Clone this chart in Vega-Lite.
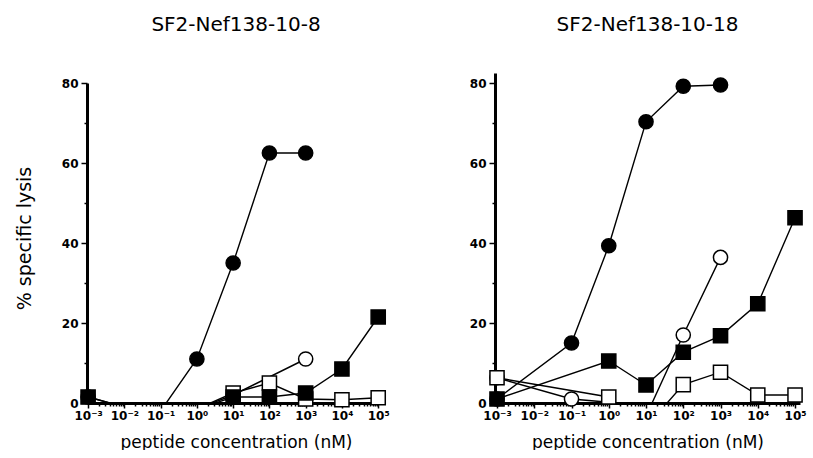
{
  "$schema": "https://vega.github.io/schema/vega-lite/v6.json",
  "background": "white",
  "padding": {"left": 15, "top": 15, "right": 5, "bottom": 0},
  "spacing": 110,
  "bounds": "flush",
  "resolve": {"scale": {"x": "independent", "y": "independent"}},
  "config": {
    "view": {"stroke": null},
    "font": "DejaVu Sans",
    "title": {"font": "DejaVu Sans", "fontSize": 20, "fontWeight": "normal", "color": "black", "anchor": "middle", "offset": 38},
    "axis": {"domainColor": "black", "tickColor": "black", "labelColor": "black", "titleColor": "black", "grid": false, "labelFont": "DejaVu Sans", "titleFont": "DejaVu Sans", "titleFontWeight": "normal"}
  },
  "datasets": {
    "lysis": [
      {"panel": "SF2-Nef138-10-8", "series": "open circle", "conc": 1, "lysis": -1.5},
      {"panel": "SF2-Nef138-10-8", "series": "open circle", "conc": 10, "lysis": 2},
      {"panel": "SF2-Nef138-10-8", "series": "open circle", "conc": 1000, "lysis": 11},
      {"panel": "SF2-Nef138-10-8", "series": "open square", "conc": 1, "lysis": -1.5},
      {"panel": "SF2-Nef138-10-8", "series": "open square", "conc": 10, "lysis": 2.5},
      {"panel": "SF2-Nef138-10-8", "series": "open square", "conc": 100, "lysis": 5},
      {"panel": "SF2-Nef138-10-8", "series": "open square", "conc": 1000, "lysis": 1},
      {"panel": "SF2-Nef138-10-8", "series": "open square", "conc": 10000, "lysis": 0.8},
      {"panel": "SF2-Nef138-10-8", "series": "open square", "conc": 100000, "lysis": 1.3},
      {"panel": "SF2-Nef138-10-8", "series": "closed circle", "conc": 0.001, "lysis": 1.5},
      {"panel": "SF2-Nef138-10-8", "series": "closed circle", "conc": 0.01, "lysis": -1},
      {"panel": "SF2-Nef138-10-8", "series": "closed circle", "conc": 0.1, "lysis": -2},
      {"panel": "SF2-Nef138-10-8", "series": "closed circle", "conc": 1, "lysis": 11},
      {"panel": "SF2-Nef138-10-8", "series": "closed circle", "conc": 10, "lysis": 35},
      {"panel": "SF2-Nef138-10-8", "series": "closed circle", "conc": 100, "lysis": 62.5},
      {"panel": "SF2-Nef138-10-8", "series": "closed circle", "conc": 1000, "lysis": 62.5},
      {"panel": "SF2-Nef138-10-8", "series": "closed square", "conc": 0.001, "lysis": 1.5},
      {"panel": "SF2-Nef138-10-8", "series": "closed square", "conc": 0.01, "lysis": -1},
      {"panel": "SF2-Nef138-10-8", "series": "closed square", "conc": 0.1, "lysis": -1},
      {"panel": "SF2-Nef138-10-8", "series": "closed square", "conc": 1, "lysis": -1.6},
      {"panel": "SF2-Nef138-10-8", "series": "closed square", "conc": 10, "lysis": 1.5},
      {"panel": "SF2-Nef138-10-8", "series": "closed square", "conc": 100, "lysis": 1.5},
      {"panel": "SF2-Nef138-10-8", "series": "closed square", "conc": 1000, "lysis": 2.5},
      {"panel": "SF2-Nef138-10-8", "series": "closed square", "conc": 10000, "lysis": 8.5},
      {"panel": "SF2-Nef138-10-8", "series": "closed square", "conc": 100000, "lysis": 21.5},
      {"panel": "SF2-Nef138-10-18", "series": "open circle", "conc": 0.001, "lysis": 6.3},
      {"panel": "SF2-Nef138-10-18", "series": "open circle", "conc": 0.1, "lysis": 1},
      {"panel": "SF2-Nef138-10-18", "series": "open circle", "conc": 1, "lysis": 0.2},
      {"panel": "SF2-Nef138-10-18", "series": "open circle", "conc": 10, "lysis": -3.3},
      {"panel": "SF2-Nef138-10-18", "series": "open circle", "conc": 100, "lysis": 17},
      {"panel": "SF2-Nef138-10-18", "series": "open circle", "conc": 1000, "lysis": 36.4},
      {"panel": "SF2-Nef138-10-18", "series": "open square", "conc": 0.001, "lysis": 6.3},
      {"panel": "SF2-Nef138-10-18", "series": "open square", "conc": 1, "lysis": 1.5},
      {"panel": "SF2-Nef138-10-18", "series": "open square", "conc": 10, "lysis": -6},
      {"panel": "SF2-Nef138-10-18", "series": "open square", "conc": 100, "lysis": 4.6},
      {"panel": "SF2-Nef138-10-18", "series": "open square", "conc": 1000, "lysis": 7.7},
      {"panel": "SF2-Nef138-10-18", "series": "open square", "conc": 10000, "lysis": 2},
      {"panel": "SF2-Nef138-10-18", "series": "open square", "conc": 100000, "lysis": 2},
      {"panel": "SF2-Nef138-10-18", "series": "closed circle", "conc": 0.001, "lysis": 1},
      {"panel": "SF2-Nef138-10-18", "series": "closed circle", "conc": 0.1, "lysis": 15},
      {"panel": "SF2-Nef138-10-18", "series": "closed circle", "conc": 1, "lysis": 39.3},
      {"panel": "SF2-Nef138-10-18", "series": "closed circle", "conc": 10, "lysis": 70.3},
      {"panel": "SF2-Nef138-10-18", "series": "closed circle", "conc": 100, "lysis": 79.2},
      {"panel": "SF2-Nef138-10-18", "series": "closed circle", "conc": 1000, "lysis": 79.5},
      {"panel": "SF2-Nef138-10-18", "series": "closed square", "conc": 0.001, "lysis": 1},
      {"panel": "SF2-Nef138-10-18", "series": "closed square", "conc": 1, "lysis": 10.5},
      {"panel": "SF2-Nef138-10-18", "series": "closed square", "conc": 10, "lysis": 4.5},
      {"panel": "SF2-Nef138-10-18", "series": "closed square", "conc": 100, "lysis": 12.7},
      {"panel": "SF2-Nef138-10-18", "series": "closed square", "conc": 1000, "lysis": 16.8},
      {"panel": "SF2-Nef138-10-18", "series": "closed square", "conc": 10000, "lysis": 24.8},
      {"panel": "SF2-Nef138-10-18", "series": "closed square", "conc": 100000, "lysis": 46.3}
    ]
  },
  "hconcat": [
    {
      "title": "SF2-Nef138-10-8",
      "width": 298,
      "height": 330,
      "data": {"name": "lysis"},
      "transform": [{"filter": "datum.panel === 'SF2-Nef138-10-8'"}],
      "encoding": {
        "x": {
          "field": "conc", "type": "quantitative",
          "scale": {"type": "log", "domain": [0.000933, 154000]},
          "axis": {
            "title": "peptide concentration (nM)", "titleFontSize": 17, "titlePadding": 13,
            "values": [0.001,0.002,0.003,0.004,0.005,0.006,0.007,0.008,0.009,0.01,0.02,0.03,0.04,0.05,0.06,0.07,0.08,0.09,0.1,0.2,0.3,0.4,0.5,0.6,0.7,0.8,0.9,1,2,3,4,5,6,7,8,9,10,20,30,40,50,60,70,80,90,100,200,300,400,500,600,700,800,900,1000,2000,3000,4000,5000,6000,7000,8000,9000,10000,20000,30000,40000,50000,60000,70000,80000,90000,100000],
            "labelExpr": "abs(log(datum.value)/LN10 - round(log(datum.value)/LN10)) < 0.001 ? '10' + ['⁻³','⁻²','⁻¹','⁰','¹','²','³','⁴','⁵'][round(log(datum.value)/LN10) + 3] : ''",
            "labelOverlap": false, "labelFlush": false,
            "labelFontSize": 12, "labelFontWeight": "bold", "labelPadding": 2,
            "tickSize": {"condition": {"test": "abs(log(datum.value)/LN10 - round(log(datum.value)/LN10)) < 0.001", "value": 5}, "value": 3},
            "tickWidth": 1.5, "domainWidth": 3
          }
        },
        "y": {
          "field": "lysis", "type": "quantitative",
          "scale": {"domain": [0, 82.5], "nice": false},
          "axis": {
            "title": "% specific lysis", "titleFontSize": 19, "titlePadding": 27,
            "values": [0,10,20,30,40,50,60,70,80],
            "labelExpr": "datum.value % 20 === 0 ? datum.label : ''",
            "labelFontSize": 12, "labelFontWeight": "bold", "labelPadding": 3,
            "tickSize": {"condition": {"test": "datum.value % 20 === 0", "value": 6}, "value": 3},
            "tickWidth": 1.5, "domainWidth": 3, "domainDash": [320, 100]
          }
        }
      },
      "layer": [
        {"mark": {"type": "line", "clip": true, "color": "black", "strokeWidth": 1.4}, "encoding": {"detail": {"field": "series"}}},
        {
          "transform": [{"filter": "datum.lysis > 0.3"}],
          "mark": {"type": "point", "filled": true, "size": 200, "stroke": "black", "strokeWidth": 1.5, "opacity": 1},
          "encoding": {
            "shape": {"field": "series", "scale": {"domain": ["open circle", "open square", "closed circle", "closed square"], "range": ["circle", "square", "circle", "square"]}, "legend": null},
            "fill": {"field": "series", "scale": {"domain": ["open circle", "open square", "closed circle", "closed square"], "range": ["white", "white", "black", "black"]}, "legend": null}
          }
        }
      ]
    },
    {
      "title": "SF2-Nef138-10-18",
      "width": 305,
      "height": 330,
      "data": {"name": "lysis"},
      "transform": [{"filter": "datum.panel === 'SF2-Nef138-10-18'"}],
      "encoding": {
        "x": {
          "field": "conc", "type": "quantitative",
          "scale": {"type": "log", "domain": [0.000883, 136000]},
          "axis": {
            "title": "peptide concentration (nM)", "titleFontSize": 17, "titlePadding": 13,
            "values": [0.001,0.002,0.003,0.004,0.005,0.006,0.007,0.008,0.009,0.01,0.02,0.03,0.04,0.05,0.06,0.07,0.08,0.09,0.1,0.2,0.3,0.4,0.5,0.6,0.7,0.8,0.9,1,2,3,4,5,6,7,8,9,10,20,30,40,50,60,70,80,90,100,200,300,400,500,600,700,800,900,1000,2000,3000,4000,5000,6000,7000,8000,9000,10000,20000,30000,40000,50000,60000,70000,80000,90000,100000],
            "labelExpr": "abs(log(datum.value)/LN10 - round(log(datum.value)/LN10)) < 0.001 ? '10' + ['⁻³','⁻²','⁻¹','⁰','¹','²','³','⁴','⁵'][round(log(datum.value)/LN10) + 3] : ''",
            "labelOverlap": false, "labelFlush": false,
            "labelFontSize": 12, "labelFontWeight": "bold", "labelPadding": 2,
            "tickSize": {"condition": {"test": "abs(log(datum.value)/LN10 - round(log(datum.value)/LN10)) < 0.001", "value": 5}, "value": 3},
            "tickWidth": 1.5, "domainWidth": 3
          }
        },
        "y": {
          "field": "lysis", "type": "quantitative",
          "scale": {"domain": [0, 82.5], "nice": false},
          "axis": {
            "title": null,
            "values": [0,10,20,30,40,50,60,70,80],
            "labelExpr": "datum.value % 20 === 0 ? datum.label : ''",
            "labelFontSize": 12, "labelFontWeight": "bold", "labelPadding": 3,
            "tickSize": {"condition": {"test": "datum.value % 20 === 0", "value": 6}, "value": 3},
            "tickWidth": 1.5, "domainWidth": 3
          }
        }
      },
      "layer": [
        {"mark": {"type": "line", "clip": true, "color": "black", "strokeWidth": 1.4}, "encoding": {"detail": {"field": "series"}}},
        {
          "transform": [{"filter": "datum.lysis > 0.3"}],
          "mark": {"type": "point", "filled": true, "size": 200, "stroke": "black", "strokeWidth": 1.5, "opacity": 1},
          "encoding": {
            "shape": {"field": "series", "scale": {"domain": ["open circle", "open square", "closed circle", "closed square"], "range": ["circle", "square", "circle", "square"]}, "legend": null},
            "fill": {"field": "series", "scale": {"domain": ["open circle", "open square", "closed circle", "closed square"], "range": ["white", "white", "black", "black"]}, "legend": null}
          }
        }
      ]
    }
  ]
}
